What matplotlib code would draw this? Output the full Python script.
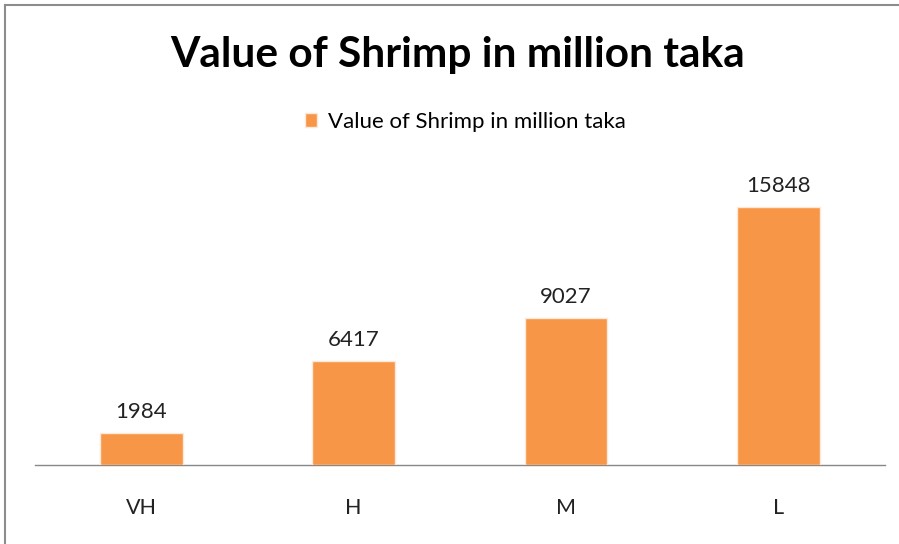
import matplotlib.pyplot as plt
from matplotlib.lines import Line2D

categories = ["VH", "H", "M", "L"]
values = [1984, 6417, 9027, 15848]
series_name = "Value of Shrimp in million taka"

plt.rcParams['font.family'] = ['Lato', 'DejaVu Sans']

fig = plt.figure(figsize=(8.99, 5.44), dpi=100)
ax = fig.add_axes([0.039, 0.145, 0.945, 0.539])

bars = ax.bar(range(len(categories)), values, width=0.39, color="#F79646",
              edgecolor="#FDE9D9", linewidth=1.0, label=series_name, zorder=3)

for b, v in zip(bars, values):
    ax.text(b.get_x() + b.get_width() / 2, v + 650, str(v), ha="center",
            va="bottom", fontsize=16, color="#222222", clip_on=False)

ax.set_xlim(-0.5, 3.5)
ax.set_ylim(0, 18000)
ax.set_yticks([])
ax.set_xticks(range(len(categories)))
ax.set_xticklabels(categories, fontsize=15.5, color="#222222")
ax.tick_params(axis="x", length=0, pad=24)
for s in ["top", "right", "left"]:
    ax.spines[s].set_visible(False)
ax.spines["bottom"].set_color("#888888")
ax.spines["bottom"].set_linewidth(1.0)

fig.text(0.509, 0.898, series_name, ha="center", va="center",
         fontsize=30.5, fontweight="bold", color="black")

fig.legend(handles=[bars], labels=[series_name], loc="center",
           bbox_to_anchor=(0.518, 0.776), frameon=False, fontsize=16,
           handlelength=0.55, handleheight=0.55, handletextpad=0.5)

# outer chart frame
fig.add_artist(Line2D([0.006, 0.006], [0.0, 0.99], color="#8c8c8c", lw=1.5))
fig.add_artist(Line2D([0.006, 1.0], [0.99, 0.99], color="#8c8c8c", lw=1.5))

fig.savefig("out.png", dpi=100)
